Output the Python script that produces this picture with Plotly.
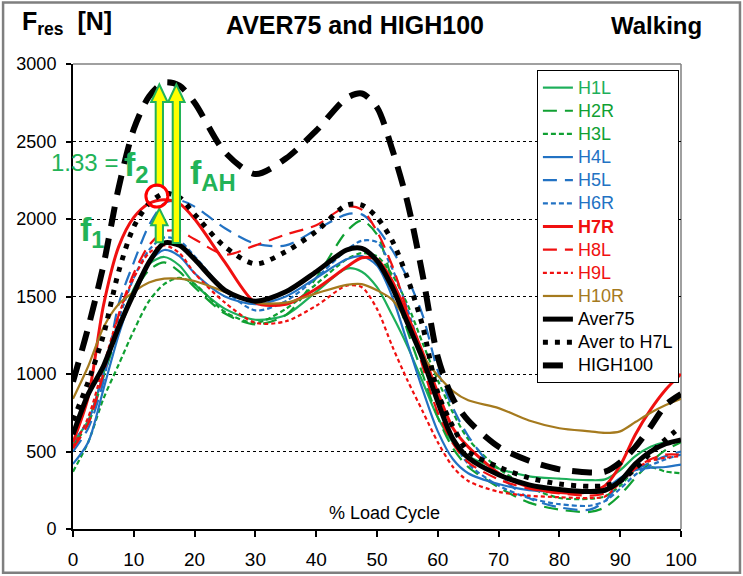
import plotly.graph_objects as go

x_pct = [0, 2.5, 5, 7.5, 10, 12.5, 15, 17.5, 20, 25, 30, 35, 40, 45, 47.5, 50, 52.5, 55, 57.5,
         60, 62.5, 65, 70, 75, 80, 85, 87.5, 90, 92.5, 95, 97.5, 100]

H1L = [560, 700, 1000, 1300, 1550, 1710, 1755, 1700, 1580, 1420, 1350, 1380, 1530, 1680, 1660, 1560, 1380,
       1180, 950, 720, 560, 470, 390, 340, 325, 315, 320, 380, 470, 530, 560, 570]
H2R = [540, 680, 980, 1280, 1520, 1670, 1720, 1660, 1560, 1390, 1320, 1380, 1620, 1920, 1990, 1900, 1600,
       1280, 1000, 720, 520, 400, 270, 170, 125, 110, 140, 220, 330, 430, 510, 560]
H3L = [370, 560, 840, 1060, 1280, 1470, 1580, 1620, 1580, 1400, 1330, 1420, 1580, 1740, 1780, 1760, 1640,
       1450, 1200, 960, 750, 580, 390, 270, 200, 195, 210, 280, 380, 400, 370, 360]
H4L = [420, 560, 900, 1250, 1530, 1720, 1800, 1760, 1650, 1500, 1450, 1500, 1620, 1740, 1760, 1700, 1500,
       1200, 900, 630, 450, 360, 290, 250, 240, 245, 260, 330, 380, 395, 400, 415]
H5L = [500, 650, 950, 1450, 1720, 1960, 2100, 2120, 2080, 1940, 1840, 1830, 1930, 2030, 2030, 1940, 1800,
       1620, 1380, 1020, 780, 600, 350, 200, 140, 125, 180, 300, 380, 430, 470, 500]
H6R = [560, 700, 1000, 1350, 1620, 1800, 1880, 1860, 1760, 1540, 1410, 1470, 1620, 1800, 1860, 1850, 1680,
       1420, 1120, 820, 570, 420, 280, 200, 160, 150, 180, 260, 350, 410, 450, 480]
H7R = [560, 850, 1440, 1820, 2010, 2100, 2125, 2100, 2000, 1720, 1460, 1450, 1550, 1690, 1750, 1740, 1600,
       1380, 1140, 880, 650, 530, 360, 270, 235, 240, 280, 410, 610, 770, 900, 1000]
H8L = [520, 680, 1000, 1380, 1650, 1830, 1920, 1920, 1870, 1770, 1830, 1900, 1960, 2080, 2060, 1920, 1700,
       1400, 1050, 750, 550, 430, 320, 260, 230, 215, 230, 300, 390, 450, 480, 480]
H9L = [530, 720, 1050, 1380, 1620, 1780, 1830, 1780, 1650, 1460, 1330, 1340, 1440, 1570, 1560, 1420, 1180,
       960, 760, 560, 400, 310, 240, 215, 205, 200, 210, 300, 390, 440, 460, 470]
H10R = [840, 1050, 1300, 1450, 1530, 1590, 1615, 1615, 1600, 1530, 1460, 1460, 1520, 1575, 1580, 1540, 1480,
        1330, 1120, 990, 890, 830, 780, 700, 650, 630, 620, 630, 690, 750, 800, 840]
AVER75 = [610, 870, 1050, 1300, 1520, 1720, 1845, 1830, 1740, 1540, 1470, 1530, 1660, 1800, 1810, 1730, 1560,
          1330, 1100, 820, 580, 460, 350, 285, 255, 242, 250, 310, 420, 500, 550, 575]
AVER_TO_H7L = [700, 950, 1250, 1660, 1950, 2100, 2165, 2140, 2030, 1820, 1710, 1790, 1920, 2090, 2090, 2010,
               1860, 1620, 1310, 880, 660, 500, 400, 330, 290, 275, 280, 310, 390, 490, 580, 660]
HIGH100 = [950, 1300, 1700, 2200, 2580, 2790, 2880, 2860, 2750, 2430, 2290, 2390, 2570, 2780, 2810, 2720,
           2450, 2110, 1640, 1110, 840, 700, 530, 440, 385, 365, 370, 430, 530, 660, 800, 870]

names = ["H1L", "H2R", "H3L", "H4L", "H5L", "H6R", "H7R", "H8L", "H9L", "H10R",
         "Aver75", "Aver to H7L", "HIGH100"]
series = [H1L, H2R, H3L, H4L, H5L, H6R, H7R, H8L, H9L, H10R, AVER75, AVER_TO_H7L, HIGH100]

x_ticks = [0, 10, 20, 30, 40, 50, 60, 70, 80, 90, 100]
y_ticks = [0, 500, 1000, 1500, 2000, 2500, 3000]

GREEN1 = "#1DAF5A"
GREEN2 = "#10A032"
BLUE = "#2272C3"
RED = "#F01010"
BROWN = "#A57A1E"
BLACK = "#000000"
ANN_GREEN = "#22B357"

styles = [
    dict(color=GREEN1, width=2.2, dash="solid"),
    dict(color=GREEN2, width=2.2, dash="14px,8px"),
    dict(color=GREEN2, width=2.2, dash="5px,3px"),
    dict(color=BLUE, width=2.2, dash="solid"),
    dict(color=BLUE, width=2.2, dash="14px,8px"),
    dict(color=BLUE, width=2.2, dash="5px,3px"),
    dict(color=RED, width=3, dash="solid"),
    dict(color=RED, width=2.2, dash="14px,8px"),
    dict(color=RED, width=2.2, dash="4px,3px"),
    dict(color=BROWN, width=2.2, dash="solid"),
    dict(color=BLACK, width=5, dash="solid"),
    dict(color=BLACK, width=5, dash="5px,7px"),
    dict(color=BLACK, width=6, dash="20px,12px"),
]
text_colors = [GREEN1, GREEN2, GREEN2, BLUE, BLUE, BLUE, RED, RED, RED, BROWN, BLACK, BLACK, BLACK]

fig = go.Figure()
for nm, ys, st, tc in zip(names, series, styles, text_colors):
    label = nm if nm != "H7R" else "<b>H7R</b>"
    fig.add_trace(go.Scatter(
        x=x_pct, y=ys, mode="lines", line=dict(shape="spline", smoothing=0.8, **st),
        name="<span style='color:%s;font-size:18px'>%s</span>" % (tc, label),
    ))

ARIAL = "Liberation Sans, Arial, sans-serif"


def arrow_path(xc, y0, yh, ytip, hw=0.6, hh=1.35):
    return ("M {a},{y0} L {b},{y0} L {b},{yh} L {c},{yh} L {xc},{yt} L {d},{yh} L {a},{yh} Z"
            .format(a=xc - hw, b=xc + hw, c=xc + hh, d=xc - hh, y0=y0, yh=yh, yt=ytip, xc=xc))


shapes = [
    dict(type="line", xref="paper", yref="paper", x0=0, x1=1, y0=1, y1=1,
         line=dict(color="#808080", width=1.5), layer="below"),
    dict(type="line", xref="paper", yref="paper", x0=1, x1=1, y0=0, y1=1,
         line=dict(color="#808080", width=1.5), layer="below"),
    dict(type="rect", xref="paper", yref="paper", x0=-0.115, x1=1.097, y0=-0.094, y1=1.132,
         line=dict(color="#7f7f7f", width=2.5)),
    dict(type="path", path=arrow_path(17.0, 1845, 2755, 2868), fillcolor="#FFFF00",
         line=dict(color=ANN_GREEN, width=2)),
    dict(type="path", path=arrow_path(14.2, 2215, 2755, 2868), fillcolor="#FFFF00",
         line=dict(color=ANN_GREEN, width=2)),
    dict(type="path", path=arrow_path(14.2, 1850, 1960, 2068), fillcolor="#FFFF00",
         line=dict(color=ANN_GREEN, width=2)),
    dict(type="circle", xref="x", yref="y", xsizemode="pixel", ysizemode="pixel",
         xanchor=13.8, yanchor=2148, x0=-11, x1=11, y0=-11, y1=11,
         line=dict(color="#FF0000", width=3)),
]

annotations = [
    dict(xref="paper", yref="paper", x=-0.087, y=1.05, xanchor="left", yanchor="bottom",
         text="<b>F<sub>res</sub>  [N]</b>", showarrow=False,
         font=dict(family=ARIAL, size=25, color="black")),
    dict(xref="paper", yref="paper", x=0.463, y=1.05, xanchor="center", yanchor="bottom",
         text="<b>AVER75 and HIGH100</b>", showarrow=False,
         font=dict(family=ARIAL, size=25, color="black")),
    dict(xref="paper", yref="paper", x=0.959, y=1.05, xanchor="center", yanchor="bottom",
         text="<b>Walking</b>", showarrow=False,
         font=dict(family=ARIAL, size=24, color="black")),
    dict(x=51.3, y=103, text="% Load Cycle", showarrow=False,
         font=dict(family=ARIAL, size=18, color="black")),
    dict(x=7.8, y=2365, xanchor="right", text="1.33 =", showarrow=False,
         font=dict(family=ARIAL, size=24, color=ANN_GREEN)),
    dict(x=8.1, y=2340, xanchor="left", text="<b>f<sub>2</sub></b>", showarrow=False,
         font=dict(family=ARIAL, size=34, color=ANN_GREEN)),
    dict(x=18.9, y=2290, xanchor="left", text="<b>f<sub>AH</sub></b>", showarrow=False,
         font=dict(family=ARIAL, size=34, color=ANN_GREEN)),
    dict(x=0.8, y=1920, xanchor="left", text="<b>f<sub>1</sub></b>", showarrow=False,
         font=dict(family=ARIAL, size=34, color=ANN_GREEN)),
]

fig.update_layout(
    width=743, height=576,
    margin=dict(l=73, r=62, t=64, b=47, autoexpand=False),
    paper_bgcolor="white", plot_bgcolor="white",
    showlegend=True,
    legend=dict(x=0.763, y=0.987, xanchor="left", yanchor="top",
                bordercolor="black", borderwidth=1, bgcolor="white",
                font=dict(family=ARIAL, size=15.5, color="black"), tracegroupgap=0),
    shapes=shapes, annotations=annotations,
    xaxis=dict(range=[0, 100], tickvals=x_ticks, ticktext=[str(v) for v in x_ticks],
               showgrid=False, zeroline=False, showline=True, linecolor="black", linewidth=2,
               ticks="outside", ticklen=6, tickwidth=2, tickcolor="black", ticklabelstandoff=6,
               automargin=False,
               tickfont=dict(family=ARIAL, size=19, color="black")),
    yaxis=dict(range=[0, 3000], tickvals=y_ticks, ticktext=[str(v) for v in y_ticks],
               showgrid=True, gridcolor="black", griddash="3px,3px", gridwidth=1,
               zeroline=False, showline=True, linecolor="black", linewidth=2,
               ticks="outside", ticklen=5, tickwidth=2, tickcolor="black", ticklabelstandoff=6,
               automargin=False,
               tickfont=dict(family=ARIAL, size=18, color="black")),
)

fig.write_html("out.html", config={"displayModeBar": False},
               post_script="document.body.style.margin='0';document.body.style.padding='0';")
